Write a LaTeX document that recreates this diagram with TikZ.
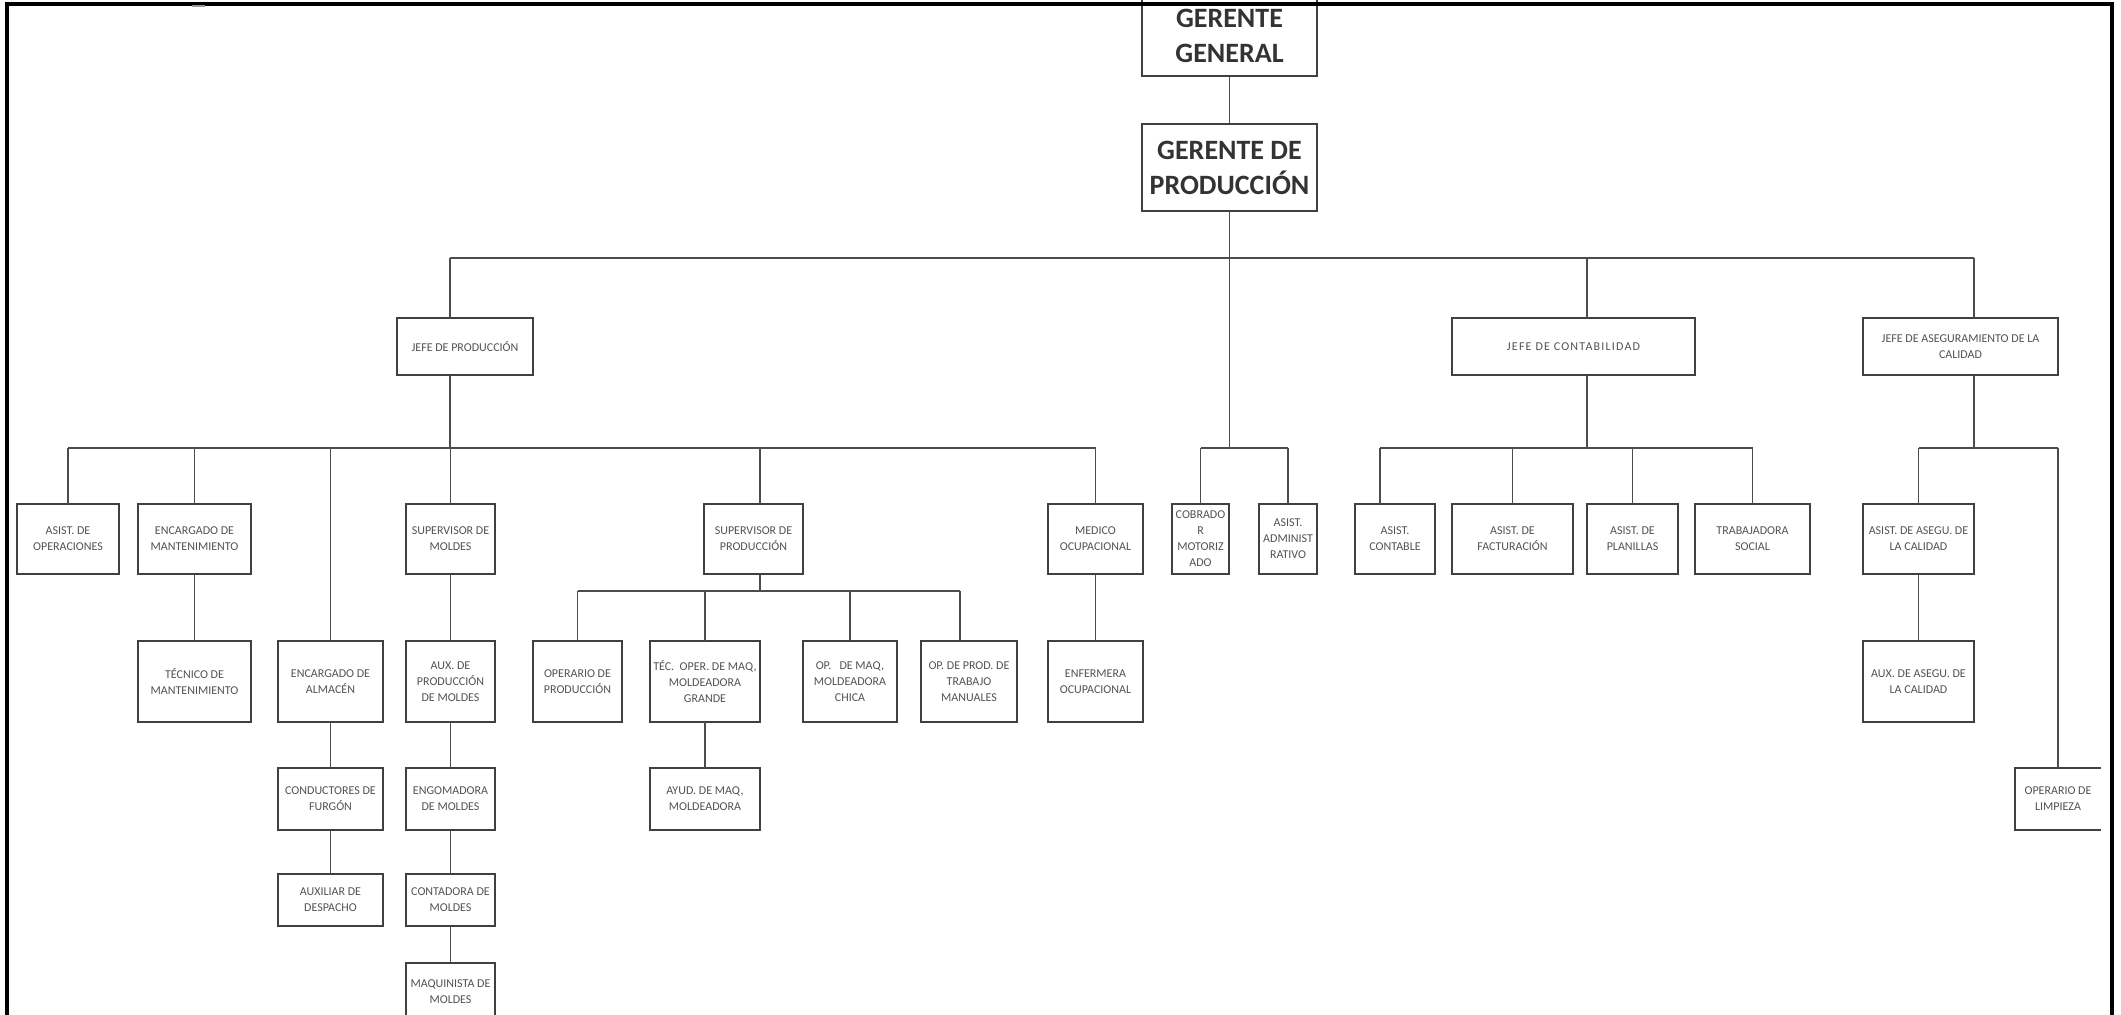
\documentclass[tikz,border=0pt]{standalone}
\usepackage{fontspec}
\setmainfont{Carlito}
\newfontfamily\widefont{Carlito}[LetterSpace=10]
\begin{document}
\begin{tikzpicture}[x=0.5pt,y=-0.5pt,
  obox/.style={draw=black!75,line width=0.55pt,inner sep=0pt,outer sep=0pt},
  nbox/.style={inner sep=0pt,outer sep=0pt},
  otxt/.style={inner sep=0pt,align=center,text=black!68,font=\fontsize{6}{8}\selectfont},
  btxt/.style={inner sep=0pt,align=center,text=black!80,font=\fontsize{14}{17.5}\selectfont\bfseries},
  conn/.style={draw=black!70,line width=0.55pt},
  frame/.style={draw=black,line width=1.8pt}]
\useasboundingbox (0,0) rectangle (2121,1015);
\newcommand\obox[6]{\node[obox,minimum width={0.5pt*(#3-#2)},minimum height={0.5pt*(#5-#4)}] (#1) at ({(#2+#3)/2},{(#4+#5)/2}) {};
  \node[otxt] at (#1.center) {#6};}
\newcommand\gbox[6]{\node[obox,minimum width={0.5pt*(#3-#2)},minimum height={0.5pt*(#5-#4)}] (#1) at ({(#2+#3)/2},{(#4+#5)/2}) {};
  \node[btxt] at (#1.center) {#6};}
% top managers
\gbox{gg}{1142}{1317}{-5}{76}{GERENTE\\GENERAL}
\gbox{gp}{1142}{1317}{124}{211}{GERENTE DE\\PRODUCCIÓN}
% jefes
\obox{jp}{397}{533}{318}{375}{JEFE DE PRODUCCIÓN}
\obox{jc}{1452}{1695}{318}{375}{\widefont JEFE DE CONTABILIDAD}
\obox{ja}{1863}{2058}{318}{375}{JEFE DE ASEGURAMIENTO DE LA\\CALIDAD}
% level 3
\obox{aop}{17}{119}{504}{574}{ASIST. DE\\OPERACIONES}
\obox{emant}{138}{251}{504}{574}{ENCARGADO DE\\MANTENIMIENTO}
\obox{smol}{406}{495}{504}{574}{SUPERVISOR DE\\MOLDES}
\obox{sprod}{704}{803}{504}{574}{SUPERVISOR DE\\PRODUCCIÓN}
\obox{med}{1048}{1143}{504}{574}{MEDICO\\OCUPACIONAL}
\obox{cob}{1172}{1229}{504}{574}{COBRADO\\R\\MOTORIZ\\ADO}
\obox{adm}{1259}{1317}{504}{574}{ASIST.\\ADMINIST\\RATIVO}
\obox{acont}{1355}{1435}{504}{574}{ASIST.\\CONTABLE}
\obox{afact}{1452}{1573}{504}{574}{ASIST. DE\\FACTURACIÓN}
\obox{aplan}{1587}{1678}{504}{574}{ASIST. DE\\PLANILLAS}
\obox{trab}{1695}{1810}{504}{574}{TRABAJADORA\\SOCIAL}
\obox{aaseg}{1863}{1974}{504}{574}{ASIST. DE ASEGU. DE\\LA CALIDAD}
% level 4
\obox{tec}{138}{251}{641}{722}{TÉCNICO DE\\MANTENIMIENTO}
\obox{alm}{278}{383}{641}{722}{ENCARGADO DE\\ALMACÉN}
\obox{auxp}{406}{495}{641}{722}{AUX. DE\\PRODUCCIÓN\\DE MOLDES}
\obox{oprod}{533}{622}{641}{722}{OPERARIO DE\\PRODUCCIÓN}
\obox{tecop}{650}{760}{641}{722}{TÉC.\ \ OPER. DE MAQ,\\MOLDEADORA\\GRANDE}
\obox{opchica}{803}{897}{641}{722}{OP.\ \ \ DE MAQ,\\MOLDEADORA\\CHICA}
\obox{opman}{921}{1017}{641}{722}{OP. DE PROD. DE\\TRABAJO\\MANUALES}
\obox{enf}{1048}{1143}{641}{722}{ENFERMERA\\OCUPACIONAL}
\obox{auxa}{1863}{1974}{641}{722}{AUX. DE ASEGU. DE\\LA CALIDAD}
% level 5
\obox{cond}{278}{383}{768}{830}{CONDUCTORES DE\\FURGÓN}
\obox{engo}{406}{495}{768}{830}{ENGOMADORA\\DE MOLDES}
\obox{ayud}{650}{760}{768}{830}{AYUD. DE MAQ,\\MOLDEADORA}
\node[nbox,minimum width={0.5pt*86},minimum height={0.5pt*62}] (oplim) at (2058,799) {};
\node[otxt] at (oplim.center) {OPERARIO DE\\LIMPIEZA};
\draw[draw=black!75,line width=0.55pt] (oplim.north east) -- (oplim.north west) -- (oplim.south west) -- (oplim.south east);
% level 6
\obox{auxd}{278}{383}{874}{926}{AUXILIAR DE\\DESPACHO}
\obox{cont}{406}{495}{874}{926}{CONTADORA DE\\MOLDES}
% level 7
\obox{maq}{406}{495}{963}{1020}{MAQUINISTA DE\\MOLDES}
% bus levels and offset attachment points
\coordinate (b1) at (0,258);
\coordinate (b2) at (0,448);
\coordinate (b3) at (0,591);
\coordinate (jpN) at ([xshift=-7.5pt]jp.north);
\coordinate (jpS) at ([xshift=-7.5pt]jp.south);
\coordinate (jcN) at ([xshift=6.75pt]jc.north);
\coordinate (jcS) at ([xshift=6.75pt]jc.south);
\coordinate (jaN) at ([xshift=6.75pt]ja.north);
\coordinate (jaS) at ([xshift=6.75pt]ja.south);
\coordinate (spN) at ([xshift=3.25pt]sprod.north);
\coordinate (spS) at ([xshift=3.25pt]sprod.south);
\coordinate (omN) at ([xshift=-4.5pt]opman.north);
\coordinate (acN) at ([xshift=-7.5pt]acont.north);
% connectors: top
\draw[conn] (gg) -- (gp);
\draw[conn] (gp.south) -- (gp.south |- b2);
\draw[conn] (jpN |- b1) -- (jaN |- b1);
\draw[conn] (jpN |- b1) -- (jpN);
\draw[conn] (jcN |- b1) -- (jcN);
\draw[conn] (jaN |- b1) -- (jaN);
% jefe de produccion
\draw[conn] (jpS) -- (jpS |- b2);
\draw[conn] (aop.north |- b2) -- (med.north |- b2);
\foreach \n in {aop,emant,alm,smol,med} \draw[conn] (\n.north |- b2) -- (\n.north);
\draw[conn] (spN |- b2) -- (spN);
\draw[conn] (emant) -- (tec);
\draw[conn] (alm) -- (cond);
\draw[conn] (cond) -- (auxd);
\draw[conn] (smol) -- (auxp);
\draw[conn] (auxp) -- (engo);
\draw[conn] (engo) -- (cont);
\draw[conn] (cont) -- (maq);
\draw[conn] (med) -- (enf);
% supervisor de produccion
\draw[conn] (spS) -- (spS |- b3);
\draw[conn] (oprod.north |- b3) -- (omN |- b3);
\foreach \n in {oprod,tecop,opchica} \draw[conn] (\n.north |- b3) -- (\n.north);
\draw[conn] (omN |- b3) -- (omN);
\draw[conn] (tecop) -- (ayud);
% gerente de produccion direct
\draw[conn] (cob.north |- b2) -- (adm.north |- b2);
\draw[conn] (cob.north |- b2) -- (cob.north);
\draw[conn] (adm.north |- b2) -- (adm.north);
% contabilidad
\draw[conn] (jcS) -- (jcS |- b2);
\draw[conn] (acN |- b2) -- (trab.north |- b2);
\draw[conn] (acN |- b2) -- (acN);
\foreach \n in {afact,aplan,trab} \draw[conn] (\n.north |- b2) -- (\n.north);
% aseguramiento
\draw[conn] (jaS) -- (jaS |- b2);
\draw[conn] (aaseg.north |- b2) -- (oplim.north |- b2);
\draw[conn] (aaseg.north |- b2) -- (aaseg.north);
\draw[conn] (oplim.north |- b2) -- (oplim.north);
\draw[conn] (aaseg) -- (auxa);
% frame
\draw[frame] (7,1030) -- (7,4) -- (2112,4) -- (2112,1030);
\draw[draw=black!40,line width=1pt] (192,6.5) -- (205,6.5);
\end{tikzpicture}
\end{document}
